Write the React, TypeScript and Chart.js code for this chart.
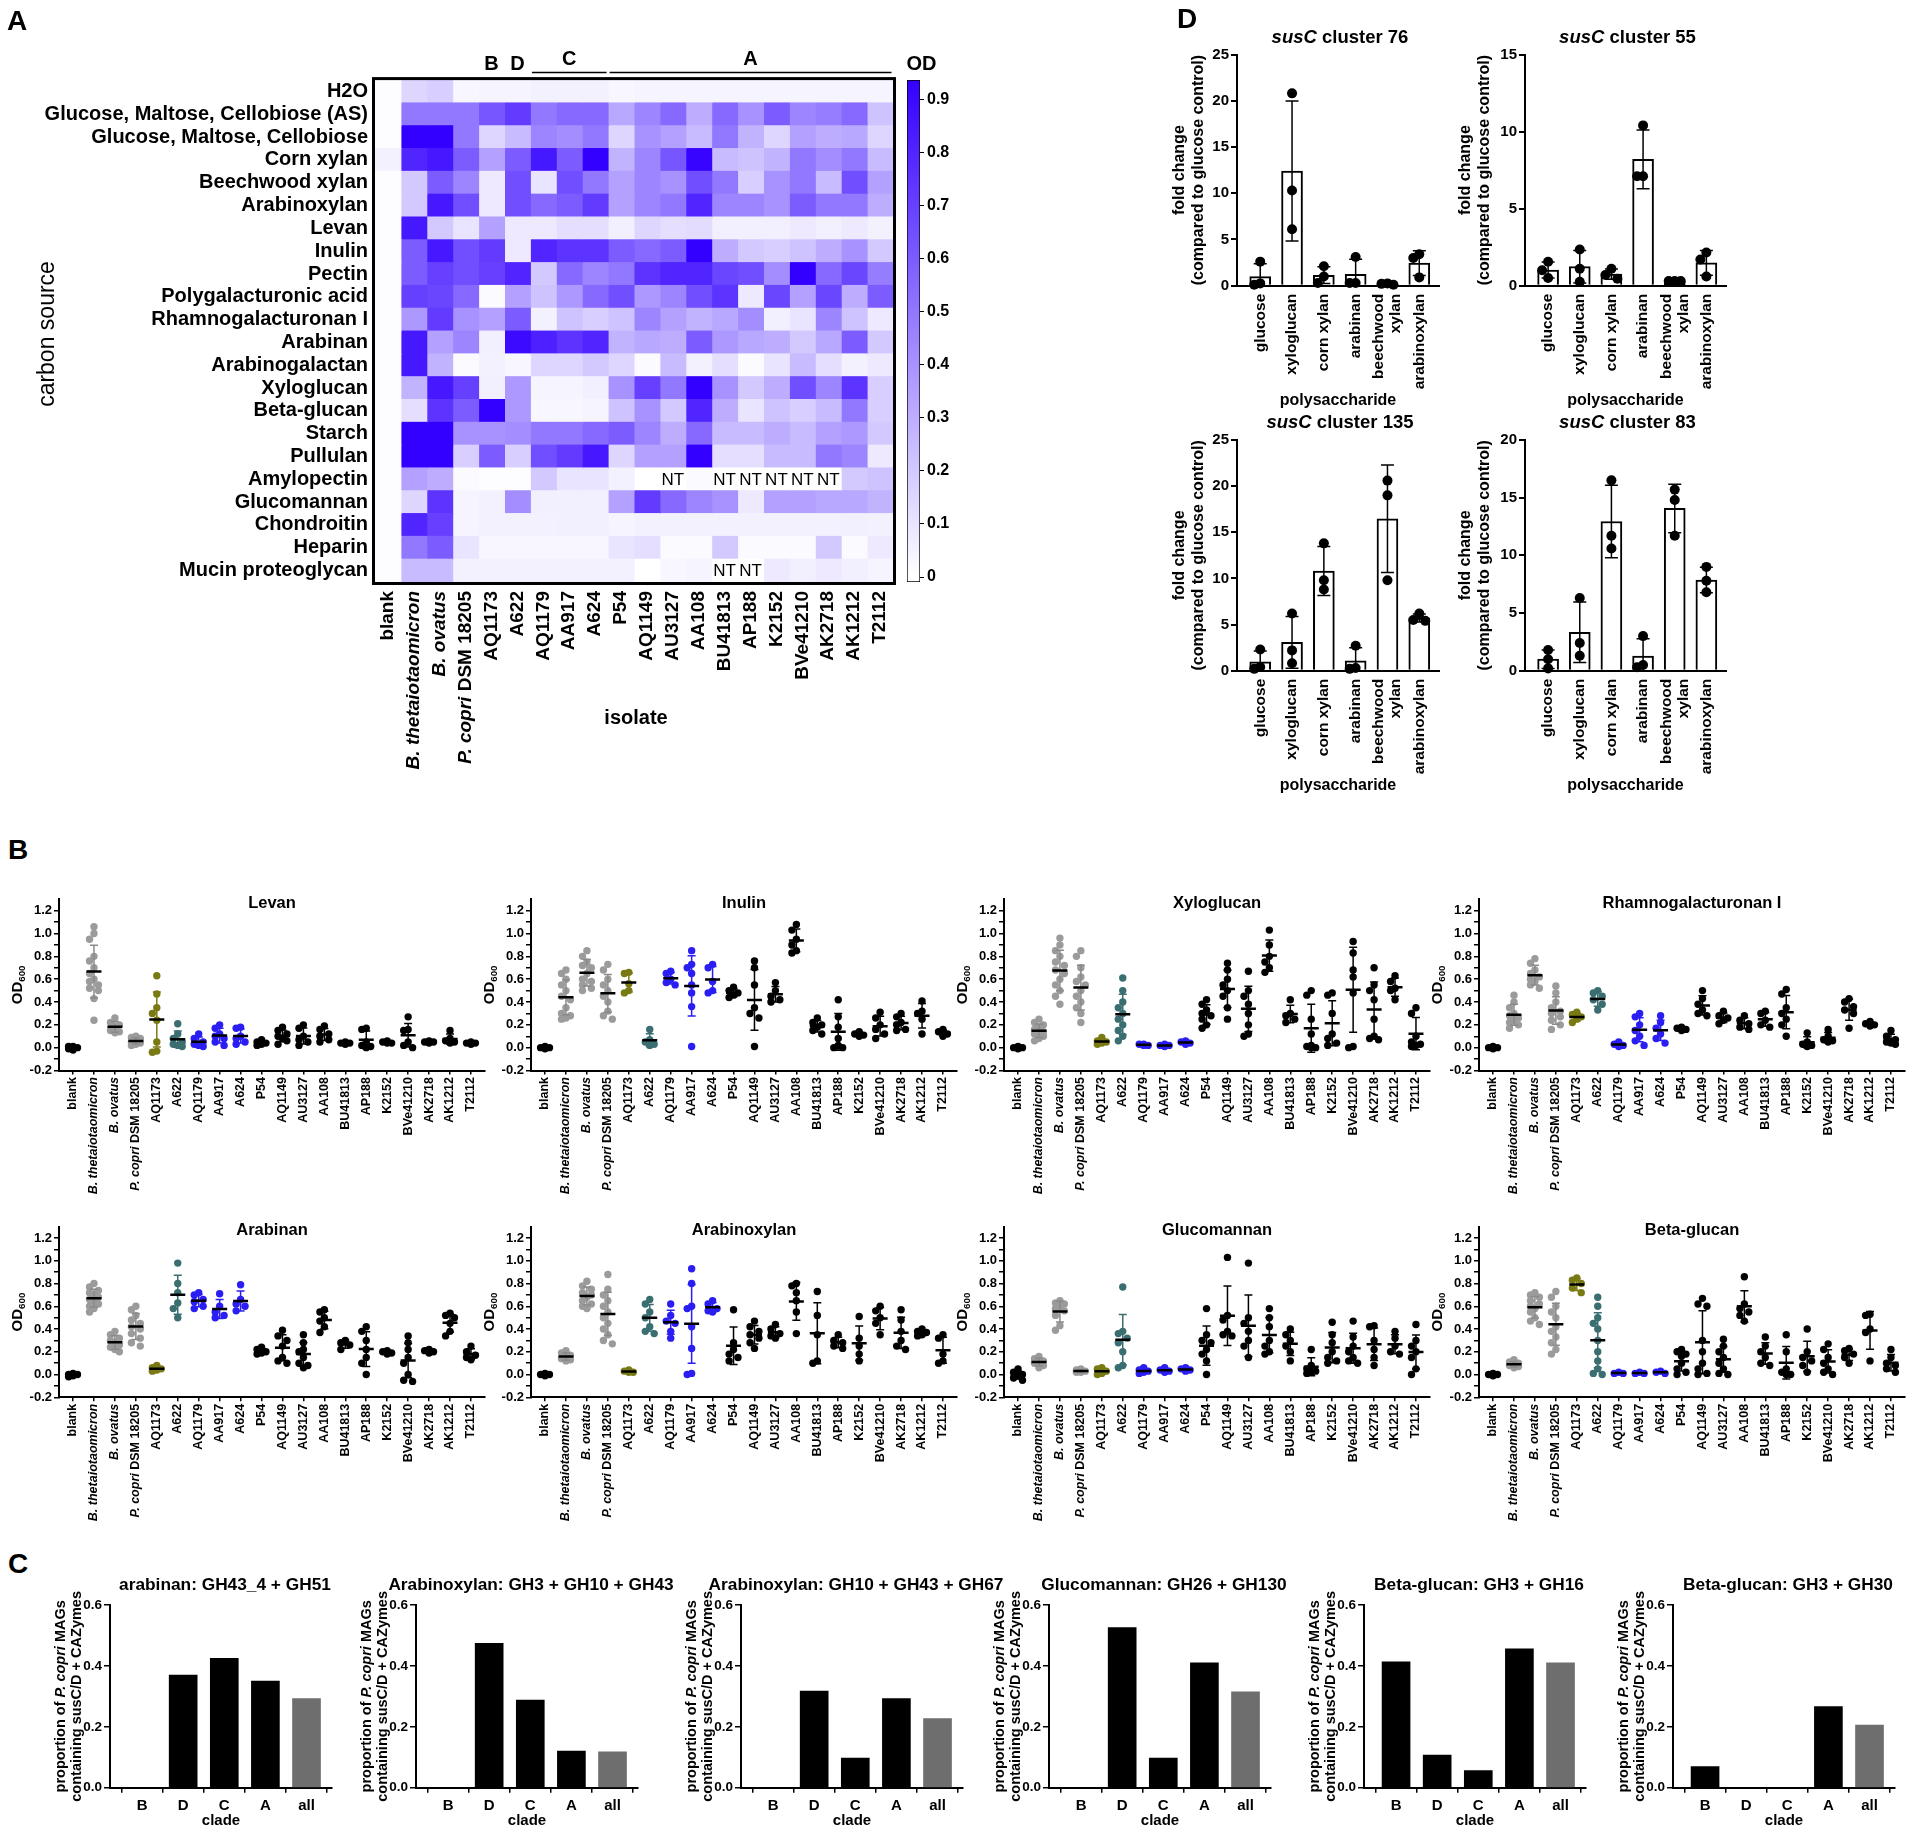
import React, { useEffect, useRef } from 'react';
import { Chart, registerables } from 'chart.js';

Chart.register(...registerables);

const FAMILY = '"Liberation Sans", Arial, Helvetica, sans-serif';
Chart.defaults.font.family = FAMILY;
Chart.defaults.color = '#000';

/* =================== DATA: panel A (heatmap) =================== */
const ISOLATES = ['blank', 'B. thetaiotaomicron', 'B. ovatus', 'P. copri DSM 18205', 'AQ1173', 'A622', 'AQ1179', 'AA917', 'A624', 'P54', 'AQ1149', 'AU3127', 'AA108', 'BU41813', 'AP188', 'K2152', 'BVe41210', 'AK2718', 'AK1212', 'T2112'];
const CARBON_SOURCES = ['H2O', 'Glucose, Maltose, Cellobiose (AS)', 'Glucose, Maltose, Cellobiose', 'Corn xylan', 'Beechwood xylan', 'Arabinoxylan', 'Levan', 'Inulin', 'Pectin', 'Polygalacturonic acid', 'Rhamnogalacturonan I', 'Arabinan', 'Arabinogalactan', 'Xyloglucan', 'Beta-glucan', 'Starch', 'Pullulan', 'Amylopectin', 'Glucomannan', 'Chondroitin', 'Heparin', 'Mucin proteoglycan'];
const ROW_H2O = [0.01, 0.15, 0.18, 0.03, 0.04, 0.04, 0.05, 0.05, 0.05, 0.03, 0.04, 0.04, 0.04, 0.04, 0.04, 0.04, 0.04, 0.04, 0.04, 0.04];
const ROW_GMC_AS = [0.01, 0.5, 0.5, 0.5, 0.62, 0.72, 0.5, 0.55, 0.55, 0.32, 0.45, 0.55, 0.3, 0.55, 0.4, 0.6, 0.45, 0.48, 0.55, 0.22];
const ROW_GMC = [0.01, 0.95, 0.95, 0.5, 0.15, 0.25, 0.45, 0.42, 0.5, 0.15, 0.4, 0.35, 0.25, 0.5, 0.28, 0.15, 0.35, 0.3, 0.32, 0.15];
const ROW_CORN_XYLAN = [0.05, 0.8, 0.85, 0.6, 0.35, 0.6, 0.85, 0.6, 0.95, 0.28, 0.45, 0.62, 0.92, 0.25, 0.22, 0.28, 0.5, 0.42, 0.5, 0.25];
const ROW_BEECHWOOD = [0.01, 0.2, 0.6, 0.45, 0.08, 0.65, 0.1, 0.65, 0.5, 0.35, 0.45, 0.4, 0.65, 0.5, 0.18, 0.4, 0.5, 0.25, 0.65, 0.35];
const ROW_ARABINOXYLAN = [0.01, 0.2, 0.85, 0.65, 0.08, 0.65, 0.55, 0.6, 0.72, 0.35, 0.45, 0.5, 0.8, 0.45, 0.45, 0.4, 0.6, 0.5, 0.5, 0.3];
const ROW_LEVAN = [0.01, 0.85, 0.2, 0.1, 0.35, 0.08, 0.08, 0.12, 0.12, 0.06, 0.15, 0.12, 0.13, 0.06, 0.06, 0.06, 0.08, 0.06, 0.08, 0.05];
const ROW_INULIN = [0.01, 0.6, 0.85, 0.65, 0.72, 0.08, 0.8, 0.75, 0.75, 0.6, 0.55, 0.6, 0.95, 0.3, 0.2, 0.18, 0.22, 0.3, 0.4, 0.2];
const ROW_PECTIN = [0.01, 0.6, 0.7, 0.65, 0.7, 0.8, 0.2, 0.55, 0.45, 0.5, 0.75, 0.8, 0.8, 0.68, 0.65, 0.42, 0.95, 0.55, 0.68, 0.48];
const ROW_PGA = [0.01, 0.7, 0.68, 0.55, 0.02, 0.35, 0.22, 0.38, 0.55, 0.65, 0.38, 0.45, 0.65, 0.75, 0.08, 0.68, 0.35, 0.68, 0.3, 0.6];
const ROW_RG1 = [0.01, 0.38, 0.72, 0.4, 0.35, 0.6, 0.05, 0.22, 0.18, 0.22, 0.45, 0.35, 0.28, 0.32, 0.42, 0.06, 0.1, 0.45, 0.22, 0.08];
const ROW_ARABINAN = [0.01, 0.85, 0.35, 0.45, 0.06, 0.9, 0.82, 0.75, 0.8, 0.28, 0.32, 0.3, 0.6, 0.38, 0.32, 0.3, 0.2, 0.32, 0.6, 0.2];
const ROW_ARABINOGALACTAN = [0.01, 0.85, 0.28, 0.02, 0.05, 0.03, 0.15, 0.15, 0.2, 0.15, 0.02, 0.25, 0.05, 0.12, 0.02, 0.1, 0.25, 0.12, 0.05, 0.08];
const ROW_XYLOGLUCAN = [0.01, 0.28, 0.85, 0.7, 0.06, 0.38, 0.04, 0.04, 0.06, 0.4, 0.7, 0.5, 0.95, 0.4, 0.2, 0.3, 0.65, 0.45, 0.75, 0.18];
const ROW_BETA_GLUCAN = [0.01, 0.12, 0.75, 0.6, 0.95, 0.38, 0.03, 0.03, 0.04, 0.22, 0.4, 0.2, 0.8, 0.3, 0.1, 0.22, 0.18, 0.25, 0.5, 0.18];
const ROW_STARCH = [0.01, 0.95, 0.95, 0.4, 0.4, 0.42, 0.5, 0.5, 0.55, 0.6, 0.45, 0.3, 0.55, 0.25, 0.25, 0.3, 0.25, 0.35, 0.38, 0.2];
const ROW_PULLULAN = [0.01, 0.95, 0.95, 0.18, 0.6, 0.18, 0.65, 0.72, 0.85, 0.15, 0.35, 0.35, 0.95, 0.12, 0.12, 0.25, 0.25, 0.5, 0.45, 0.08];
const ROW_AMYLOPECTIN = [0.01, 0.35, 0.3, 0.02, 0.01, 0.01, 0.2, 0.1, 0.1, 0.05, 0.0, null, 0.02, null, null, null, null, null, 0.2, 0.22];
const ROW_GLUCOMANNAN = [0.01, 0.15, 0.75, 0.04, 0.05, 0.42, 0.06, 0.06, 0.06, 0.35, 0.72, 0.55, 0.45, 0.4, 0.08, 0.35, 0.35, 0.32, 0.32, 0.28];
const ROW_CHONDROITIN = [0.01, 0.8, 0.7, 0.04, 0.05, 0.05, 0.05, 0.06, 0.06, 0.04, 0.05, 0.05, 0.05, 0.05, 0.05, 0.05, 0.05, 0.05, 0.06, 0.05];
const ROW_HEPARIN = [0.01, 0.5, 0.6, 0.1, 0.03, 0.03, 0.03, 0.03, 0.03, 0.1, 0.12, 0.02, 0.02, 0.2, 0.02, 0.02, 0.02, 0.2, 0.02, 0.08];
const ROW_MUCIN = [0.01, 0.25, 0.25, 0.05, 0.05, 0.05, 0.05, 0.05, 0.05, 0.05, 0.0, 0.03, 0.04, null, null, 0.08, 0.06, 0.08, 0.06, 0.04];
const HEAT = [ROW_H2O, ROW_GMC_AS, ROW_GMC, ROW_CORN_XYLAN, ROW_BEECHWOOD, ROW_ARABINOXYLAN, ROW_LEVAN, ROW_INULIN, ROW_PECTIN, ROW_PGA, ROW_RG1, ROW_ARABINAN, ROW_ARABINOGALACTAN, ROW_XYLOGLUCAN, ROW_BETA_GLUCAN, ROW_STARCH, ROW_PULLULAN, ROW_AMYLOPECTIN, ROW_GLUCOMANNAN, ROW_CHONDROITIN, ROW_HEPARIN, ROW_MUCIN];
const OD_SCALE_MIN = -0.0094;
const OD_SCALE_MAX = 0.937;
const OD_TICKS = [0, 0.1, 0.2, 0.3, 0.4, 0.5, 0.6, 0.7, 0.8, 0.9];
const CLADE_NAMES = ['B', 'D', 'C', 'A'];
const CLADE_FIRST_COL = [4, 5, 6, 9];
const CLADE_LAST_COL = [4, 5, 8, 19];
const CLADE_HAS_LINE = [false, false, true, true];

/* =================== DATA: panel D =================== */
const D_CATS = ['glucose', 'xyloglucan', 'corn xylan', 'arabinan', 'beechwood xylan', 'arabinoxylan'];
const CL76_PTS = [[2.6, 0.1, 0.25], [20.8, 10.3, 6.1], [2.1, 1.0, 0.3], [3.1, 0.3, 0.3], [0.2, 0.25, 0.1], [3.0, 3.4, 0.9]];
const CL55_PTS = [[1.55, 0.5, 1.0], [2.35, 1.1, 0.25], [1.1, 0.7, 0.45], [10.4, 7.1, 7.1], [0.3, 0.3, 0.3], [2.15, 1.7, 0.6]];
const CL135_PTS = [[2.3, 0.2, 0.4], [6.2, 2.2, 0.8], [13.8, 9.8, 8.8], [2.7, 0.2, 0.3], [20.6, 19.0, 9.8], [6.2, 5.5, 5.4]];
const CL83_PTS = [[1.8, 1.0, 0.2], [6.3, 2.4, 1.3], [16.5, 11.7, 10.6], [3.0, 0.3, 0.5], [15.7, 14.8, 11.7], [9.0, 7.8, 6.8]];
const CL76_TICKS = [0, 5, 10, 15, 20, 25];
const CL55_TICKS = [0, 5, 10, 15];
const CL135_TICKS = [0, 5, 10, 15, 20, 25];
const CL83_TICKS = [0, 5, 10, 15, 20];

/* =================== DATA: panel B (OD600 per isolate) =================== */
const B_Y_TICKS = [-0.2, -0.1, 0, 0.1, 0.2, 0.3, 0.4, 0.5, 0.6, 0.7, 0.8, 0.9, 1.0, 1.1, 1.2];
const B_Y_LABELED = [-0.2, 0, 0.2, 0.4, 0.6, 0.8, 1.0, 1.2];
const LEVAN_OD = [
  [0, -0.01, 0.01, -0.02, 0, 0.01],
  [1.06, 1.0, 0.95, 0.8, 0.76, 0.7, 0.65, 0.6, 0.58, 0.55, 0.52, 0.5, 0.43, 0.24],
  [0.26, 0.22, 0.2, 0.18, 0.15, 0.14, 0.13],
  [0.1, 0.09, 0.08, 0.06, 0.05, 0.04, 0.03, 0.02],
  [0.63, 0.47, 0.35, 0.3, 0.24, 0.05, -0.03, -0.04],
  [0.21, 0.12, 0.08, 0.05, 0.03, 0.02, 0.01],
  [0.12, 0.08, 0.05, 0.03, 0.02, 0.01],
  [0.2, 0.17, 0.12, 0.1, 0.08, 0.05, 0.02],
  [0.18, 0.17, 0.1, 0.08, 0.05, 0.03],
  [0.07, 0.05, 0.04, 0.03, 0.02],
  [0.18, 0.15, 0.12, 0.1, 0.08, 0.06, 0.03],
  [0.2, 0.17, 0.1, 0.07, 0.05, 0.02],
  [0.19, 0.16, 0.12, 0.1, 0.07, 0.05],
  [0.05, 0.04, 0.04, 0.03],
  [0.17, 0.16, 0.05, 0.02, 0.0, 0.01],
  [0.06, 0.05, 0.04, 0.04],
  [0.27, 0.16, 0.15, 0.05, 0.02, 0.0],
  [0.06, 0.05, 0.04, 0.05],
  [0.15, 0.08, 0.06, 0.05, 0.04],
  [0.05, 0.04, 0.04, 0.03],
];
const INULIN_OD = [
  [0, 0, 0.01, -0.01, 0],
  [0.68, 0.65, 0.6, 0.55, 0.5, 0.45, 0.42, 0.35, 0.3, 0.28, 0.26, 0.25],
  [0.85, 0.8, 0.75, 0.72, 0.7, 0.65, 0.6, 0.58, 0.55, 0.52, 0.5],
  [0.73, 0.68, 0.6, 0.55, 0.5, 0.45, 0.4, 0.32, 0.28, 0.25],
  [0.66, 0.65, 0.56, 0.5, 0.48],
  [0.16, 0.07, 0.05, 0.03, 0.02],
  [0.67, 0.65, 0.6, 0.57, 0.55],
  [0.85, 0.73, 0.7, 0.65, 0.55, 0.48, 0.36, 0.01],
  [0.73, 0.7, 0.58, 0.5, 0.48],
  [0.53, 0.5, 0.48, 0.46, 0.44],
  [0.76, 0.7, 0.55, 0.35, 0.3, 0.26, 0.01],
  [0.57, 0.5, 0.45, 0.42, 0.4],
  [1.08, 1.03, 0.95, 0.9, 0.85, 0.83],
  [0.26, 0.22, 0.2, 0.18, 0.15, 0.12],
  [0.42, 0.27, 0.18, 0.08, 0.02, 0.0, 0.0],
  [0.14, 0.12, 0.11, 0.1],
  [0.31, 0.26, 0.2, 0.16, 0.12, 0.08],
  [0.3, 0.27, 0.22, 0.2, 0.16, 0.15],
  [0.41, 0.32, 0.3, 0.25, 0.12],
  [0.16, 0.14, 0.12, 0.1],
];
const XYLOGLUCAN_OD = [
  [0, 0.01, -0.01, 0, 0],
  [0.25, 0.22, 0.2, 0.18, 0.16, 0.14, 0.13, 0.12, 0.1, 0.08, 0.06],
  [0.96, 0.9, 0.85, 0.8, 0.75, 0.72, 0.68, 0.65, 0.6, 0.55, 0.5, 0.45, 0.38],
  [0.85, 0.8, 0.7, 0.62, 0.58, 0.55, 0.5, 0.45, 0.4, 0.35, 0.3, 0.22],
  [0.09, 0.06, 0.05, 0.04, 0.03],
  [0.61, 0.5, 0.4, 0.35, 0.3, 0.25, 0.2, 0.15, 0.1, 0.06],
  [0.03, 0.03, 0.02, 0.02],
  [0.03, 0.02, 0.02, 0.01],
  [0.06, 0.05, 0.04, 0.03],
  [0.42, 0.38, 0.33, 0.3, 0.28, 0.25, 0.2, 0.17],
  [0.74, 0.68, 0.6, 0.55, 0.5, 0.45, 0.35, 0.25],
  [0.67, 0.5, 0.45, 0.38, 0.3, 0.2, 0.12, 0.1],
  [1.03, 0.9, 0.8, 0.75, 0.7, 0.66],
  [0.42, 0.3, 0.28, 0.25, 0.22],
  [0.5, 0.46, 0.25, 0.12, 0.02, 0.01, 0.0, 0.0],
  [0.48, 0.46, 0.3, 0.12, 0.08, 0.04, 0.02],
  [0.93, 0.83, 0.68, 0.62, 0.48, 0.01, 0.0],
  [0.7, 0.55, 0.5, 0.42, 0.25, 0.1, 0.07, 0.08],
  [0.63, 0.58, 0.52, 0.5, 0.42],
  [0.35, 0.3, 0.1, 0.05, 0.03, 0.02, 0.01],
];
const RG1_OD = [
  [0, 0.01, -0.01, 0, 0],
  [0.46, 0.4, 0.35, 0.3, 0.28, 0.26, 0.24, 0.22, 0.2, 0.17],
  [0.78, 0.74, 0.68, 0.65, 0.62, 0.6, 0.58, 0.55, 0.52],
  [0.54, 0.48, 0.4, 0.35, 0.32, 0.3, 0.27, 0.24, 0.2, 0.16],
  [0.31, 0.29, 0.27, 0.25, 0.22],
  [0.5, 0.48, 0.45, 0.42, 0.38, 0.33],
  [0.05, 0.03, 0.02, 0.01],
  [0.3, 0.27, 0.2, 0.15, 0.1, 0.06, 0.02],
  [0.28, 0.22, 0.17, 0.12, 0.08, 0.04],
  [0.18, 0.17, 0.16, 0.15],
  [0.5, 0.43, 0.38, 0.33, 0.3, 0.28],
  [0.32, 0.28, 0.26, 0.24, 0.21],
  [0.28, 0.24, 0.21, 0.18, 0.16],
  [0.32, 0.3, 0.24, 0.2, 0.18],
  [0.51, 0.47, 0.35, 0.3, 0.25, 0.2, 0.1],
  [0.13, 0.05, 0.03, 0.02, 0.01],
  [0.16, 0.1, 0.07, 0.06, 0.05],
  [0.43, 0.4, 0.36, 0.33, 0.3, 0.17],
  [0.23, 0.21, 0.2, 0.19],
  [0.15, 0.1, 0.07, 0.05, 0.04, 0.03],
];
const ARABINAN_OD = [
  [0.01, 0, -0.01, -0.02, 0],
  [0.8, 0.77, 0.74, 0.72, 0.7, 0.68, 0.66, 0.64, 0.62, 0.6, 0.58, 0.55],
  [0.38, 0.35, 0.32, 0.3, 0.28, 0.26, 0.24, 0.22, 0.2],
  [0.6, 0.57, 0.52, 0.48, 0.45, 0.42, 0.4, 0.36, 0.32, 0.28, 0.25],
  [0.08, 0.06, 0.05, 0.04, 0.03],
  [0.98, 0.8, 0.72, 0.63, 0.58, 0.5],
  [0.72, 0.7, 0.66, 0.64, 0.6, 0.58],
  [0.71, 0.6, 0.55, 0.52, 0.5],
  [0.79, 0.66, 0.62, 0.6, 0.56],
  [0.24, 0.22, 0.2, 0.19, 0.18],
  [0.39, 0.34, 0.3, 0.25, 0.15, 0.12, 0.1],
  [0.35, 0.28, 0.22, 0.2, 0.15, 0.1, 0.08, 0.06],
  [0.57, 0.55, 0.5, 0.47, 0.42, 0.37],
  [0.3, 0.28, 0.26, 0.22],
  [0.42, 0.38, 0.3, 0.22, 0.15, 0.1, 0.0],
  [0.21, 0.2, 0.19, 0.18],
  [0.34, 0.28, 0.22, 0.15, 0.1, 0.0, -0.05, -0.06],
  [0.22, 0.21, 0.2, 0.19],
  [0.54, 0.52, 0.5, 0.45, 0.38, 0.34],
  [0.25, 0.2, 0.17, 0.15, 0.13],
];
const ARABINOXYLAN_OD = [
  [0.01, 0, -0.01, 0],
  [0.21, 0.19, 0.17, 0.15, 0.14, 0.13, 0.12],
  [0.82, 0.78, 0.75, 0.72, 0.7, 0.68, 0.65, 0.62, 0.6, 0.58],
  [0.88, 0.75, 0.7, 0.65, 0.6, 0.55, 0.5, 0.45, 0.4, 0.35, 0.3, 0.27],
  [0.04, 0.03, 0.02, 0.02],
  [0.66, 0.62, 0.55, 0.5, 0.42, 0.38, 0.36],
  [0.62, 0.52, 0.47, 0.45, 0.38, 0.32],
  [0.93, 0.8, 0.6, 0.58, 0.42, 0.23, 0.01, 0.0],
  [0.65, 0.62, 0.58, 0.56, 0.55],
  [0.57, 0.28, 0.22, 0.18, 0.15, 0.12],
  [0.47, 0.42, 0.38, 0.35, 0.32, 0.28, 0.23],
  [0.44, 0.4, 0.36, 0.34, 0.32],
  [0.8, 0.78, 0.72, 0.65, 0.55, 0.36],
  [0.73, 0.52, 0.35, 0.12, 0.1],
  [0.35, 0.3, 0.28, 0.25, 0.23],
  [0.51, 0.32, 0.25, 0.18, 0.12],
  [0.6, 0.56, 0.5, 0.45, 0.35],
  [0.57, 0.48, 0.38, 0.3, 0.25, 0.22],
  [0.4, 0.38, 0.37, 0.35, 0.34],
  [0.35, 0.32, 0.18, 0.12, 0.1],
];
const GLUCOMANNAN_OD = [
  [0.05, 0.02, 0, -0.01, -0.03, -0.05],
  [0.16, 0.14, 0.12, 0.11, 0.1, 0.08, 0.06],
  [0.65, 0.63, 0.62, 0.6, 0.58, 0.56, 0.52, 0.43, 0.39],
  [0.05, 0.04, 0.03, 0.02, 0.02],
  [0.06, 0.05, 0.03, 0.01, 0.0],
  [0.77, 0.38, 0.36, 0.32, 0.28, 0.2, 0.08, 0.06],
  [0.06, 0.04, 0.03, 0.02, 0.01],
  [0.06, 0.04, 0.03, 0.02],
  [0.06, 0.05, 0.04, 0.03],
  [0.58, 0.35, 0.3, 0.28, 0.22, 0.18, 0.12, 0.0],
  [1.03, 0.52, 0.48, 0.38, 0.35, 0.34],
  [0.98, 0.5, 0.45, 0.38, 0.3, 0.25, 0.15],
  [0.58, 0.5, 0.42, 0.3, 0.25, 0.2, 0.18],
  [0.4, 0.35, 0.3, 0.25, 0.2, 0.12],
  [0.22, 0.08, 0.05, 0.03, 0.02, 0.01],
  [0.46, 0.35, 0.28, 0.2, 0.15, 0.12, 0.1],
  [0.47, 0.33, 0.25, 0.2, 0.15, 0.12, 0.1],
  [0.43, 0.42, 0.3, 0.22, 0.15, 0.08],
  [0.38, 0.32, 0.25, 0.2, 0.18],
  [0.44, 0.3, 0.25, 0.2, 0.15, 0.05, 0.0],
];
const BETAGLUCAN_OD = [
  [0, 0, 0.01, -0.01, 0],
  [0.13, 0.11, 0.1, 0.09, 0.08, 0.07, 0.06],
  [0.72, 0.7, 0.68, 0.65, 0.62, 0.6, 0.58, 0.55, 0.5, 0.47, 0.44],
  [0.73, 0.68, 0.6, 0.55, 0.5, 0.42, 0.38, 0.33, 0.28, 0.22, 0.18],
  [0.85, 0.83, 0.8, 0.76, 0.72],
  [0.68, 0.6, 0.5, 0.45, 0.4, 0.3, 0.2, 0.12, 0.05, 0.01, 0.0],
  [0.02, 0.01, 0.01],
  [0.02, 0.01, 0.01],
  [0.03, 0.02, 0.01],
  [0.22, 0.2, 0.18, 0.16, 0.1, 0.05, 0.02, 0.0],
  [0.67, 0.62, 0.6, 0.3, 0.2, 0.1, 0.05, 0.01, 0.0],
  [0.31, 0.25, 0.2, 0.15, 0.1, 0.05, 0.01, 0.0],
  [0.86, 0.62, 0.58, 0.55, 0.52, 0.47],
  [0.33, 0.25, 0.2, 0.15, 0.1, 0.08],
  [0.35, 0.2, 0.05, 0.02, 0.0, 0.0],
  [0.4, 0.2, 0.15, 0.12, 0.08, 0.02],
  [0.27, 0.22, 0.15, 0.1, 0.05, 0.02, 0.0],
  [0.23, 0.21, 0.18, 0.15, 0.1],
  [0.53, 0.52, 0.4, 0.37, 0.12],
  [0.22, 0.15, 0.1, 0.08, 0.05, 0.02],
];
// colour group of each isolate: k black, g gray, o olive, t teal, b blue
const ISO_GROUP = ['k', 'g', 'g', 'g', 'o', 't', 'b', 'b', 'b', 'k', 'k', 'k', 'k', 'k', 'k', 'k', 'k', 'k', 'k', 'k'];

/* =================== DATA: panel C =================== */
const C_CLADES = ['B', 'D', 'C', 'A', 'all'];
const C_Y_TICKS = [0, 0.2, 0.4, 0.6];
const ARABINAN_GH43_GH51 = [0, 0.37, 0.425, 0.35, 0.293];
const ARABINOXYLAN_GH3_GH10_GH43 = [0, 0.474, 0.288, 0.12, 0.118];
const ARABINOXYLAN_GH10_GH43_GH67 = [0, 0.317, 0.097, 0.293, 0.227];
const GLUCOMANNAN_GH26_GH130 = [0, 0.526, 0.097, 0.41, 0.315];
const BETAGLUCAN_GH3_GH16 = [0.413, 0.107, 0.056, 0.456, 0.41];
const BETAGLUCAN_GH3_GH30 = [0.069, 0, 0, 0.266, 0.206];

/* =================== styles =================== */
const GROUP_COLOR: any = { k: '#000000', g: '#9b9b9b', o: '#7a7a14', t: '#3b6e71', b: '#2a1ef2' };
const ERR_COLOR: any = { k: '#000000', g: '#8a8a8a', o: '#7a7a14', t: '#3b6e71', b: '#2a1ef2' };

type Seg = { t: string; it?: boolean; sub?: boolean };

function fontStr(size: number, weight: string, italic: boolean) {
  return `${italic ? 'italic ' : ''}${weight} ${size}px ${FAMILY}`;
}

function drawRich(ctx: any, segs: Seg[], x: number, y: number, size: number, opt: any = {}) {
  const weight = opt.weight || 'bold';
  ctx.save();
  ctx.translate(x, y);
  if (opt.rot) ctx.rotate(-Math.PI / 2);
  ctx.textBaseline = 'middle';
  ctx.textAlign = 'left';
  ctx.fillStyle = opt.color || '#000';
  const fontOf = (s: Seg) => fontStr(s.sub ? size * 0.65 : size, weight, !!s.it);
  const widths = segs.map((s) => { ctx.font = fontOf(s); return ctx.measureText(s.t).width; });
  const total = widths.reduce((a, b) => a + b, 0);
  let cx = opt.align === 'right' ? -total : opt.align === 'left' ? 0 : -total / 2;
  segs.forEach((s, k) => {
    ctx.font = fontOf(s);
    ctx.fillText(s.t, cx, s.sub ? size * 0.32 : 0);
    cx += widths[k];
  });
  ctx.restore();
}

function isoSegs(label: string): Seg[] {
  if (label.startsWith('P. copri')) return [{ t: 'P. copri', it: true }, { t: label.slice(8) }];
  if (label.startsWith('B. ')) return [{ t: label, it: true }];
  return [{ t: label }];
}

function heatColor(v: number | null) {
  if (v === null || v === undefined) return '#ffffff';
  const t = Math.max(0, Math.min(1, v / OD_SCALE_MAX));
  const r = Math.round(255 - 204 * t);
  const g = Math.round(255 - 255 * t);
  return `rgb(${r},${g},255)`;
}

function mean(a: number[]) { return a.reduce((s, v) => s + v, 0) / a.length; }
function sd(a: number[]) {
  if (a.length < 2) return 0;
  const m = mean(a);
  return Math.sqrt(a.reduce((s, v) => s + (v - m) * (v - m), 0) / (a.length - 1));
}

// deterministic beeswarm placement (horizontal offsets in axis units)
function swarm(vals: number[], pxX: number, pxY: number, diam: number, maxPx: number): number[] {
  const placed: { x: number; y: number }[] = [];
  const res = new Array(vals.length).fill(0);
  const order = vals.map((_, i) => i).sort((a, b) => vals[b] - vals[a]);
  const step = diam * 0.6;
  const cands = [0];
  for (let k = 1; k * step <= maxPx + 0.01; k++) cands.push(-k * step, k * step);
  for (const i of order) {
    const y = vals[i] * pxY;
    let best = 0;
    let bestD = -1;
    for (const c of cands) {
      let dmin = Infinity;
      for (const p of placed) dmin = Math.min(dmin, Math.hypot(p.x - c, p.y - y));
      if (dmin >= diam * 0.92) { best = c; break; }
      if (dmin > bestD) { bestD = dmin; best = c; }
    }
    placed.push({ x: best, y });
    res[i] = best / pxX;
  }
  return res;
}

function errorSeries(means: number[], sds: number[]) {
  const out: any[] = [];
  means.forEach((m, i) => { out.push({ x: i, y: m - sds[i] }, { x: i, y: m + sds[i] }, { x: i, y: null }); });
  return out;
}

const BASE = { responsive: false, animation: false, devicePixelRatio: 1, events: [] as any[] };
const NO_PLUGINS = { legend: { display: false }, tooltip: { enabled: false }, title: { display: false } };

/* =================== layout =================== */
const HEAT_BOX = { x: 0, y: 0, w: 905, h: 790 };
const HEAT_AREA = { x0: 375, y0: 80.1, x1: 893, y1: 582 };
const CBAR_BOX = { x: 900, y: 40, w: 80, h: 560 };
const CBAR_AREA = { x0: 907, y0: 80.1, x1: 920, y1: 582 };

/* =================== panel A builders =================== */
function buildHeatmap() {
  const box = HEAT_BOX, area = HEAT_AREA;
  const ann = {
    id: 'heatAnn',
    afterDraw(chart: any) {
      const ctx = chart.ctx, xs = chart.scales.x, ys = chart.scales.y, ca = chart.chartArea;
      ctx.save();
      ctx.strokeStyle = '#000';
      ctx.lineWidth = 3;
      ctx.strokeRect(ca.left - 1.5, ca.top - 1.5, ca.right - ca.left + 3, ca.bottom - ca.top + 3);
      ctx.restore();
      HEAT.forEach((row, r) => row.forEach((v, c) => {
        if (v === null) drawRich(ctx, [{ t: 'NT' }], xs.getPixelForValue(c + 0.5), ys.getPixelForValue(r) + 1, 17, { weight: 'normal' });
      }));
      ISOLATES.forEach((iso, c) => drawRich(ctx, isoSegs(iso), xs.getPixelForValue(c + 0.5), ca.bottom + 9, 19, { rot: true, align: 'right' }));
      drawRich(ctx, [{ t: 'isolate' }], (ca.left + ca.right) / 2 + 2, 718 - box.y, 20);
      drawRich(ctx, [{ t: 'carbon source' }], 48 - box.x, 334 - box.y, 23, { rot: true, weight: 'normal' });
      CLADE_NAMES.forEach((name, k) => {
        const a = xs.getPixelForValue(CLADE_FIRST_COL[k]);
        const b = xs.getPixelForValue(CLADE_LAST_COL[k] + 1);
        if (CLADE_HAS_LINE[k]) {
          ctx.save();
          ctx.strokeStyle = '#000';
          ctx.lineWidth = 1.5;
          ctx.beginPath();
          ctx.moveTo(a + 1.5, 72.5 - box.y);
          ctx.lineTo(b - 1.5, 72.5 - box.y);
          ctx.stroke();
          ctx.restore();
          drawRich(ctx, [{ t: name }], (a + b) / 2, 59 - box.y, 20);
        } else {
          drawRich(ctx, [{ t: name }], (a + b) / 2, 64 - box.y, 20);
        }
      });
    },
  };
  return {
    type: 'bar',
    data: {
      labels: CARBON_SOURCES,
      datasets: ISOLATES.map((iso, c) => ({
        label: iso,
        data: CARBON_SOURCES.map(() => 1),
        backgroundColor: HEAT.map((row) => heatColor(row[c])),
        borderWidth: 0,
        barPercentage: 1,
        categoryPercentage: 1,
        inflateAmount: 0.5,
      })),
    },
    options: {
      ...BASE,
      indexAxis: 'y',
      layout: { padding: { left: 0, top: area.y0 - box.y, right: box.x + box.w - area.x1, bottom: box.y + box.h - area.y1 } },
      plugins: NO_PLUGINS,
      scales: {
        x: { type: 'linear', stacked: true, min: 0, max: ISOLATES.length, display: false },
        y: {
          type: 'category', stacked: true,
          grid: { display: false, drawTicks: false }, border: { display: false },
          ticks: { font: { size: 20, weight: 'bold' }, color: '#000', padding: 7, autoSkip: false },
          afterFit: (s: any) => { s.width = area.x0 - box.x; },
        },
      },
    },
    plugins: [ann],
  };
}

function buildColorbar() {
  const box = CBAR_BOX, area = CBAR_AREA;
  const ann = {
    id: 'cbarAnn',
    afterDraw(chart: any) {
      drawRich(chart.ctx, [{ t: 'OD' }], 921.5 - box.x, 64 - box.y, 20);
    },
  };
  return {
    type: 'bar',
    data: {
      labels: ['OD'],
      datasets: [{
        data: [[OD_SCALE_MIN, OD_SCALE_MAX]],
        backgroundColor: (c: any) => {
          const ch = c.chart;
          const ys = ch.scales && ch.scales.y;
          if (!ch.chartArea || !ys) return '#8080ff';
          const g = ch.ctx.createLinearGradient(0, ys.getPixelForValue(0), 0, ys.getPixelForValue(OD_SCALE_MAX));
          g.addColorStop(0, heatColor(0));
          g.addColorStop(1, heatColor(OD_SCALE_MAX));
          return g;
        },
        borderColor: '#000', borderWidth: 1, borderSkipped: false,
        barPercentage: 1, categoryPercentage: 1,
      }],
    },
    options: {
      ...BASE,
      layout: { padding: { left: area.x0 - box.x, top: area.y0 - box.y, right: 0, bottom: box.y + box.h - area.y1 } },
      plugins: NO_PLUGINS,
      scales: {
        x: { display: false },
        y: {
          position: 'right', min: OD_SCALE_MIN, max: OD_SCALE_MAX,
          afterBuildTicks: (s: any) => { s.ticks = OD_TICKS.map((v) => ({ value: v })); },
          ticks: { font: { size: 16, weight: 'bold' }, color: '#000', padding: 3, autoSkip: false, callback: (v: number) => (v === 0 ? '0' : v.toFixed(1)) },
          grid: { display: true, drawOnChartArea: false, drawTicks: true, tickLength: 4, color: '#000', lineWidth: 1 },
          border: { display: false },
          afterFit: (s: any) => { s.width = box.x + box.w - area.x1; },
        },
      },
    },
    plugins: [ann],
  };
}

/* =================== panel D builder =================== */
const D_XMIN = -0.73, D_XMAX = 5.62;
function buildFold(p: any) {
  const box = p.box, area = p.area;
  const ymax = p.ticks[p.ticks.length - 1];
  const pxX = (area.x1 - area.x0) / (D_XMAX - D_XMIN);
  const pxY = (area.y1 - area.y0) / ymax;
  const dots: any[] = [];
  p.pts.forEach((arr: number[], i: number) => {
    const offs = swarm(arr, pxX, pxY, 10, 9);
    arr.forEach((v, k) => dots.push({ x: i + offs[k], y: v }));
  });
  const means = p.pts.map(mean), sds = p.pts.map(sd);
  const ann = {
    id: 'foldAnn',
    afterDraw(chart: any) {
      const ctx = chart.ctx, ca = chart.chartArea, xs = chart.scales.x;
      drawRich(ctx, [{ t: 'susC', it: true }, { t: ' cluster ' + p.cluster }], (ca.left + ca.right) / 2 + 2, p.titleY - box.y, 18.5);
      const lh = 17;
      D_CATS.forEach((cat, i) => {
        const lines = cat.length > 12 ? cat.split(' ') : [cat];
        lines.forEach((ln, j) => {
          const x = xs.getPixelForValue(i) + (j - (lines.length - 1) / 2) * lh;
          drawRich(ctx, [{ t: ln }], x, ca.bottom + 8, 15.5, { rot: true, align: 'right' });
        });
      });
    },
  };
  return {
    type: 'bar',
    data: {
      datasets: [
        { type: 'scatter', data: dots, pointRadius: 5, pointBackgroundColor: '#000', pointBorderWidth: 0, clip: false, order: 0 },
        { type: 'line', data: errorSeries(means, sds), borderColor: '#000', borderWidth: 1.5, pointStyle: 'line', pointRadius: 6.5, pointBorderColor: '#000', pointBorderWidth: 1.5, spanGaps: false, order: 1 },
        { type: 'bar', data: means.map((m: number, i: number) => ({ x: i, y: m })), backgroundColor: '#ffffff', borderColor: '#000', borderWidth: 2, barThickness: 21, order: 2 },
      ],
    },
    options: {
      ...BASE,
      layout: { padding: { left: 0, top: area.y0 - box.y, right: box.x + box.w - area.x1, bottom: 0 } },
      plugins: NO_PLUGINS,
      scales: {
        x: {
          type: 'linear', min: D_XMIN, max: D_XMAX, offset: false,
          afterBuildTicks: (s: any) => { s.ticks = D_CATS.map((_, i) => ({ value: i })); },
          ticks: { display: false, autoSkip: false },
          grid: { display: false, drawTicks: false },
          border: { display: true, color: '#000', width: 2 },
          title: { display: true, text: 'polysaccharide', font: { size: 16, weight: 'bold' }, color: '#000', padding: 0 },
          afterFit: (s: any) => { s.height = box.y + box.h - area.y1; },
        },
        y: {
          type: 'linear', min: 0, max: ymax,
          afterBuildTicks: (s: any) => { s.ticks = p.ticks.map((v: number) => ({ value: v })); },
          ticks: { font: { size: 15, weight: 'bold' }, color: '#000', padding: 2, autoSkip: false },
          grid: { display: true, drawOnChartArea: false, drawTicks: true, tickLength: 6, color: '#000', lineWidth: 2 },
          border: { display: true, color: '#000', width: 2 },
          title: { display: true, text: ['fold change', '(compared to glucose control)'], font: { size: 16, weight: 'bold' }, color: '#000', padding: 0 },
          afterFit: (s: any) => { s.width = area.x0 - box.x; },
        },
      },
    },
    plugins: [ann],
  };
}

const D_PANELS = [
  { cluster: '76', pts: CL76_PTS, ticks: CL76_TICKS, titleY: 38.3, box: { x: 1170, y: 20, w: 280, h: 390 }, area: { x0: 1237, y0: 54.5, x1: 1439, y1: 285.7 } },
  { cluster: '55', pts: CL55_PTS, ticks: CL55_TICKS, titleY: 38.3, box: { x: 1456, y: 20, w: 286, h: 390 }, area: { x0: 1525, y0: 54.5, x1: 1726, y1: 285.7 } },
  { cluster: '135', pts: CL135_PTS, ticks: CL135_TICKS, titleY: 423.3, box: { x: 1170, y: 405, w: 280, h: 390 }, area: { x0: 1237, y0: 440, x1: 1439, y1: 670.7 } },
  { cluster: '83', pts: CL83_PTS, ticks: CL83_TICKS, titleY: 423.3, box: { x: 1456, y: 405, w: 286, h: 390 }, area: { x0: 1525, y0: 440, x1: 1726, y1: 670.7 } },
];

/* =================== panel B builder =================== */
const B_XMIN = -0.67, B_XMAX = ISOLATES.length - 1 + 0.67;
const B_Y_MIN = -0.2, B_Y_MAX = 1.3;
function buildDot(p: any) {
  const box = p.box, area = p.area;
  const pxX = (area.x1 - area.x0) / (B_XMAX - B_XMIN);
  const pxY = (area.y1 - area.y0) / (B_Y_MAX - B_Y_MIN);
  const dots: any[] = [], dotCol: string[] = [];
  p.pts.forEach((arr: number[], i: number) => {
    const offs = swarm(arr, pxX, pxY, 7.4, 8.5);
    arr.forEach((v, k) => { dots.push({ x: i + offs[k], y: v }); dotCol.push(GROUP_COLOR[ISO_GROUP[i]]); });
  });
  const means = p.pts.map(mean), sds = p.pts.map(sd);
  const errCol: string[] = [];
  means.forEach((_: number, i: number) => { const c = ERR_COLOR[ISO_GROUP[i]]; errCol.push(c, c, c); });
  const ann = {
    id: 'dotAnn',
    afterDraw(chart: any) {
      const ctx = chart.ctx, xs = chart.scales.x, ca = chart.chartArea;
      drawRich(ctx, [{ t: p.title }], (ca.left + ca.right) / 2, p.titleY - box.y, 16.5);
      drawRich(ctx, [{ t: 'OD' }, { t: '600', sub: true }], area.x0 - 41 - box.x, (ca.top + ca.bottom) / 2, 15, { rot: true });
      ISOLATES.forEach((iso, i) => drawRich(ctx, isoSegs(iso), xs.getPixelForValue(i), ca.bottom + 6.5, 12.5, { rot: true, align: 'right' }));
    },
  };
  return {
    type: 'scatter',
    data: {
      datasets: [
        { type: 'scatter', data: dots, pointRadius: 3.7, pointBackgroundColor: dotCol, pointBorderWidth: 0, clip: false, order: 2 },
        {
          type: 'line', data: errorSeries(means, sds), borderWidth: 1.5, borderColor: '#000',
          segment: { borderColor: (c: any) => errCol[c.p0DataIndex] },
          pointStyle: 'line', pointRadius: 4, pointBorderWidth: 1.5, pointBorderColor: errCol, spanGaps: false, order: 1,
        },
        { type: 'scatter', data: means.map((m: number, i: number) => ({ x: i, y: m })), pointStyle: 'line', pointRadius: 7.5, pointBorderWidth: 2.5, pointBorderColor: '#000', order: 0 },
      ],
    },
    options: {
      ...BASE,
      layout: { padding: { left: 0, top: area.y0 - box.y, right: box.x + box.w - area.x1, bottom: 0 } },
      plugins: NO_PLUGINS,
      scales: {
        x: {
          type: 'linear', min: B_XMIN, max: B_XMAX, offset: false,
          afterBuildTicks: (s: any) => { s.ticks = ISOLATES.map((_, i) => ({ value: i })); },
          ticks: { display: false, autoSkip: false },
          grid: { display: true, drawOnChartArea: false, drawTicks: true, tickLength: 4, color: '#000', lineWidth: 1.5 },
          border: { display: true, color: '#000', width: 2 },
          afterFit: (s: any) => { s.height = box.y + box.h - area.y1; },
        },
        y: {
          type: 'linear', min: B_Y_MIN, max: B_Y_MAX,
          afterBuildTicks: (s: any) => { s.ticks = B_Y_TICKS.map((v) => ({ value: v })); },
          ticks: { font: { size: 13, weight: 'bold' }, color: '#000', padding: 2, autoSkip: false, callback: (v: number) => (B_Y_LABELED.includes(v) ? v.toFixed(1) : '') },
          grid: { display: true, drawOnChartArea: false, drawTicks: true, tickLength: 5, color: '#000', lineWidth: 1.5 },
          border: { display: true, color: '#000', width: 2 },
          afterFit: (s: any) => { s.width = area.x0 - box.x; },
        },
      },
    },
    plugins: [ann],
  };
}

const B_COL_X0 = [59.4, 531, 1004, 1479];
const B_AREA_W = 426.2;
const B_ROWS = [
  { y0: 899.3, y1: 1070.5, top: 880, h: 320, titleY: 903.3 },
  { y0: 1226.7, y1: 1397.3, top: 1208, h: 322, titleY: 1230 },
];
const B_DEFS = [
  { title: 'Levan', pts: LEVAN_OD }, { title: 'Inulin', pts: INULIN_OD }, { title: 'Xyloglucan', pts: XYLOGLUCAN_OD }, { title: 'Rhamnogalacturonan I', pts: RG1_OD },
  { title: 'Arabinan', pts: ARABINAN_OD }, { title: 'Arabinoxylan', pts: ARABINOXYLAN_OD }, { title: 'Glucomannan', pts: GLUCOMANNAN_OD }, { title: 'Beta-glucan', pts: BETAGLUCAN_OD },
];
const B_PANELS = B_DEFS.map((d, k) => {
  const row = B_ROWS[Math.floor(k / 4)];
  const x0 = B_COL_X0[k % 4];
  return {
    ...d, titleY: row.titleY,
    box: { x: x0 - 58, y: row.top, w: B_AREA_W + 58 + 10, h: row.h },
    area: { x0, y0: row.y0, x1: x0 + B_AREA_W, y1: row.y1 },
  };
});

/* =================== panel C builder =================== */
const C_XMIN = -0.78, C_XMAX = 4.62;
function buildClade(p: any) {
  const box = p.box, area = p.area;
  const ann = {
    id: 'cladeAnn',
    afterDraw(chart: any) {
      const ctx = chart.ctx, ca = chart.chartArea;
      drawRich(ctx, [{ t: p.title }], (ca.left + ca.right) / 2 + 4, 1585 - box.y, 17.3);
      const cy = (ca.top + ca.bottom) / 2;
      drawRich(ctx, [{ t: 'proportion of ' }, { t: 'P. copri', it: true }, { t: ' MAGs' }], area.x0 - 49 - box.x, cy, 14.5, { rot: true });
      drawRich(ctx, [{ t: 'containing susC/D + CAZymes' }], area.x0 - 33.5 - box.x, cy, 14.5, { rot: true });
    },
  };
  return {
    type: 'bar',
    data: {
      datasets: [{
        type: 'bar', data: p.vals.map((v: number, i: number) => ({ x: i, y: v })),
        backgroundColor: C_CLADES.map((c) => (c === 'all' ? '#6e6e6e' : '#000000')),
        borderWidth: 0, barThickness: 28,
      }],
    },
    options: {
      ...BASE,
      layout: { padding: { left: 0, top: area.y0 - box.y, right: box.x + box.w - area.x1, bottom: 0 } },
      plugins: NO_PLUGINS,
      scales: {
        x: {
          type: 'linear', min: C_XMIN, max: C_XMAX, offset: false,
          afterBuildTicks: (s: any) => { s.ticks = C_CLADES.map((_, i) => ({ value: i })); },
          ticks: { autoSkip: false, maxRotation: 0, minRotation: 0, padding: 4, font: { size: 15, weight: 'bold' }, color: '#000', callback: (v: number) => C_CLADES[v] },
          grid: { display: true, drawOnChartArea: false, drawTicks: true, tickLength: 5, color: '#000', lineWidth: 1.5 },
          border: { display: true, color: '#000', width: 2 },
          title: { display: true, text: 'clade', font: { size: 15, weight: 'bold' }, color: '#000', padding: 0 },
          afterFit: (s: any) => { s.height = box.y + box.h - area.y1; },
        },
        y: {
          type: 'linear', min: 0, max: 0.6,
          afterBuildTicks: (s: any) => { s.ticks = C_Y_TICKS.map((v) => ({ value: v })); },
          ticks: { font: { size: 13.5, weight: 'bold' }, color: '#000', padding: 2, autoSkip: false, callback: (v: number) => v.toFixed(1) },
          grid: { display: true, drawOnChartArea: false, drawTicks: true, tickLength: 6, color: '#000', lineWidth: 1.5 },
          border: { display: true, color: '#000', width: 2 },
          afterFit: (s: any) => { s.width = area.x0 - box.x; },
        },
      },
    },
    plugins: [ann],
  };
}

const C_X0 = [110.2, 416.4, 741, 1048.8, 1364.2, 1673.4];
const C_AREA_W = 222;
const C_DEFS = [
  { title: 'arabinan: GH43_4 + GH51', vals: ARABINAN_GH43_GH51 },
  { title: 'Arabinoxylan: GH3 + GH10 + GH43', vals: ARABINOXYLAN_GH3_GH10_GH43 },
  { title: 'Arabinoxylan: GH10 + GH43 + GH67', vals: ARABINOXYLAN_GH10_GH43_GH67 },
  { title: 'Glucomannan: GH26 + GH130', vals: GLUCOMANNAN_GH26_GH130 },
  { title: 'Beta-glucan: GH3 + GH16', vals: BETAGLUCAN_GH3_GH16 },
  { title: 'Beta-glucan: GH3 + GH30', vals: BETAGLUCAN_GH3_GH30 },
];
const C_PANELS = C_DEFS.map((d, k) => {
  const x0 = C_X0[k];
  return {
    ...d,
    box: { x: x0 - 65, y: 1570, w: C_AREA_W + 65 + 60, h: 260 },
    area: { x0, y0: 1605, x1: x0 + C_AREA_W, y1: 1787.7 },
  };
});

/* =================== components =================== */
function ChartBox({ box, build }: { box: any; build: () => any }) {
  const ref = useRef<HTMLCanvasElement | null>(null);
  useEffect(() => {
    const chart = new Chart(ref.current as HTMLCanvasElement, build());
    return () => chart.destroy();
  }, []);
  return (
    <canvas
      ref={ref}
      width={Math.round(box.w)}
      height={Math.round(box.h)}
      style={{ position: 'absolute', left: box.x, top: box.y, width: Math.round(box.w), height: Math.round(box.h) }}
    />
  );
}

function Letter({ x, y, t }: { x: number; y: number; t: string }) {
  return (
    <div style={{ position: 'absolute', left: x, top: y, font: `bold 28px ${FAMILY}`, lineHeight: '28px', color: '#000' }}>{t}</div>
  );
}

export default function App() {
  useEffect(() => {
    document.body.style.margin = '0';
    document.body.style.background = '#ffffff';
    document.documentElement.style.overflow = 'hidden';
  }, []);
  return (
    <div style={{ position: 'relative', width: 1922, height: 1830, background: '#ffffff', overflow: 'hidden' }}>
      <ChartBox box={HEAT_BOX} build={buildHeatmap} />
      <ChartBox box={CBAR_BOX} build={buildColorbar} />
      {D_PANELS.map((p, i) => <ChartBox key={'d' + i} box={p.box} build={() => buildFold(p)} />)}
      {B_PANELS.map((p, i) => <ChartBox key={'b' + i} box={p.box} build={() => buildDot(p)} />)}
      {C_PANELS.map((p, i) => <ChartBox key={'c' + i} box={p.box} build={() => buildClade(p)} />)}
      <Letter x={7} y={7} t="A" />
      <Letter x={1177} y={5} t="D" />
      <Letter x={8} y={836} t="B" />
      <Letter x={8} y={1550} t="C" />
    </div>
  );
}
